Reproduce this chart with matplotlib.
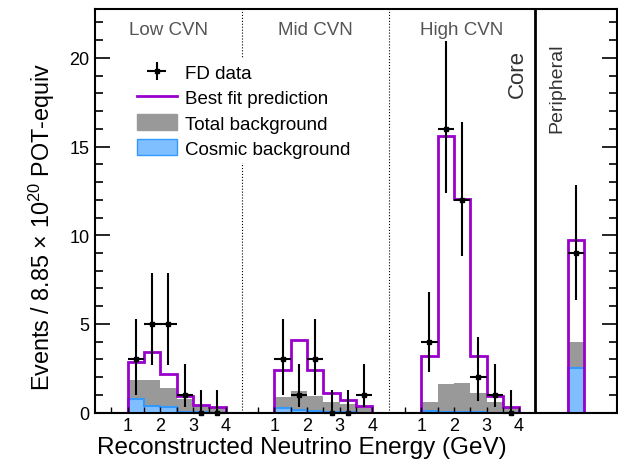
import numpy as np
import matplotlib
matplotlib.use("Agg")
import matplotlib.pyplot as plt

plt.rcParams['font.family'] = ['Liberation Sans', 'DejaVu Sans']
plt.rcParams['mathtext.fontset'] = 'custom'
plt.rcParams['mathtext.rm'] = 'Liberation Sans'
plt.rcParams['mathtext.it'] = 'Liberation Sans:italic'

# energy bin centres (GeV) inside each CVN panel
energy_centers = [1.25, 1.75, 2.25, 2.75, 3.25, 3.75]
panel_names = ["Low CVN", "Mid CVN", "High CVN"]

best_fit_low = [2.88, 3.44, 2.16, 0.96, 0.43, 0.32]
best_fit_mid = [2.41, 4.10, 2.41, 1.09, 0.72, 0.39]
best_fit_high = [3.20, 15.6, 12.05, 3.21, 0.96, 0.34]
best_fit_periph = 9.75

total_bkg_low = [1.84, 1.84, 1.37, 0.77, 0.40, 0.25]
total_bkg_mid = [0.90, 1.20, 0.96, 0.59, 0.51, 0.34]
total_bkg_high = [0.62, 1.60, 1.67, 1.11, 0.62, 0.25]
total_bkg_periph = 4.0

cosmic_low = [0.77, 0.36, 0.30, 0.03, 0.02, 0.0]
cosmic_mid = [0.28, 0.14, 0.10, 0.03, 0.02, 0.0]
cosmic_high = [0.08, 0.05, 0.04, 0.02, 0.0, 0.0]
cosmic_periph = 2.52

data_low = [3, 5, 5, 1, 0, 0]
data_mid = [3, 1, 3, 0, 0, 1]
data_high = [4, 16, 12, 2, 1, 0]
data_periph = 9

err_low_end = {0: 0.0, 1: 0.30, 2: 0.66, 3: 1.01, 4: 2.31, 5: 2.69, 9: 6.33, 12: 8.85, 16: 12.38}
err_high_end = {0: 1.28, 1: 2.73, 2: 4.25, 3: 5.30, 4: 6.80, 5: 7.86, 9: 12.83, 12: 16.4, 16: 20.97}

PURPLE = '#9900cc'
GRAY = '#999999'
BLUE_FILL = '#80bfff'
BLUE_EDGE = '#3399ff'
PANEL_W = 4.5

fig = plt.figure(figsize=(6.18, 4.64), dpi=100)
ax = fig.add_axes([95/618, 1-413.7/464, (617-95)/618, (413.7-10)/464])

best_fit = [best_fit_low, best_fit_mid, best_fit_high]
total_bkg = [total_bkg_low, total_bkg_mid, total_bkg_high]
cosmic = [cosmic_low, cosmic_mid, cosmic_high]
data = [data_low, data_mid, data_high]


def pad(v):
    # empty bins 0-1 GeV and 4-4.5 GeV around the 1-4 GeV range
    return [0, 0] + list(v) + [0]


data_x, data_y = [], []
for p in range(3):
    off = p * PANEL_W
    edges = np.arange(0, PANEL_W + 0.01, 0.5) + off
    ax.stairs(pad(total_bkg[p]), edges, fill=True, color=GRAY, lw=0)
    ax.stairs(pad(cosmic[p]), edges, fill=True, color=BLUE_FILL, lw=0)
    ax.stairs(pad(cosmic[p]), edges, color=BLUE_EDGE, lw=1.5)
    ax.stairs(pad(best_fit[p]), edges, color=PURPLE, lw=2)
    data_x += [off + c for c in energy_centers]
    data_y += data[p]

# peripheral sample
per_edges = [13.5, 14.5, 15.0, 16.0]
ax.stairs([0, total_bkg_periph, 0], per_edges, fill=True, color=GRAY, lw=0)
ax.stairs([0, cosmic_periph, 0], per_edges, fill=True, color=BLUE_FILL, lw=0)
ax.stairs([0, cosmic_periph, 0], per_edges, color=BLUE_EDGE, lw=1.5)
ax.stairs([0, best_fit_periph, 0], per_edges, color=PURPLE, lw=2)
data_x.append(14.75)
data_y.append(data_periph)

data_x = np.array(data_x)
data_y = np.array(data_y)
lo = np.array([err_low_end[n] for n in data_y])
hi = np.array([err_high_end[n] for n in data_y])
h_data = ax.errorbar(data_x, data_y, yerr=[data_y - lo, hi - data_y], xerr=0.25,
                     fmt='s', color='black', ms=3.5, elinewidth=1.5, capsize=0,
                     zorder=5, clip_on=False)

# legend-only handles
h_fit, = ax.plot([], [], color=PURPLE, lw=2)
h_tot = ax.fill_between([], [], color=GRAY)
h_cos = ax.fill_between([], [], facecolor=BLUE_FILL, edgecolor=BLUE_EDGE, lw=1)

# panel separators
for xs in [4.5, 9.0]:
    ax.axvline(xs, color='black', ls=':', lw=0.8, zorder=1)
ax.axvline(13.5, color='black', lw=2, zorder=6)

for p, name in enumerate(panel_names):
    ax.text(p * PANEL_W + 2.25, 21.6, name, ha='center', va='center',
            fontsize=13.5, color='#555555')
ax.text(12.94, 20.5, 'Core', rotation=90, ha='center', va='top', fontsize=16, color='#333333')
ax.text(14.17, 20.85, 'Peripheral', rotation=90, ha='center', va='top', fontsize=14, color='#333333')

ax.set_xlim(0, 16)
ax.set_ylim(0, 22.75)

major_x, major_lab, minor_x = [], [], []
for p in range(3):
    for e in [1, 2, 3, 4]:
        major_x.append(p * PANEL_W + e)
        major_lab.append(str(e))
    for e in [0.5, 1.5, 2.5, 3.5]:
        minor_x.append(p * PANEL_W + e)
ax.set_xticks(major_x)
ax.set_xticklabels(major_lab)
ax.set_xticks(minor_x, minor=True)
ax.tick_params(axis='x', which='both', direction='in', length=4, width=1,
               labelsize=13, pad=3)

ax.set_yticks([0, 5, 10, 15, 20])
ax.set_yticks(np.arange(0, 23, 1), minor=True)
ax.tick_params(axis='y', which='major', direction='in', length=11, width=1.2,
               labelsize=13, right=True, pad=4)
ax.tick_params(axis='y', which='minor', direction='in', length=5.5, width=1.2, right=True)

for s in ax.spines.values():
    s.set_linewidth(1.5)

leg = ax.legend([h_data, h_fit, h_tot, h_cos],
                ['FD data', 'Best fit prediction', 'Total background', 'Cosmic background'],
                loc='upper left', bbox_to_anchor=(0.07, 0.878), fontsize=13.5,
                frameon=True, facecolor='white', edgecolor='none', framealpha=1,
                borderaxespad=0, borderpad=0.3, labelspacing=0.37,
                handlelength=2.1, handletextpad=0.45, handleheight=0.9)
leg.set_zorder(7)

fig.text(42/618, 1-227/464, 'Events / 8.85 $\\times$ 10$^{20}$ POT-equiv',
         rotation=90, ha='center', va='center', fontsize=16.8)
fig.text(302/618, 1-454/464, 'Reconstructed Neutrino Energy (GeV)',
         ha='center', va='baseline', fontsize=17.5)

fig.savefig('out.png', dpi=100)
